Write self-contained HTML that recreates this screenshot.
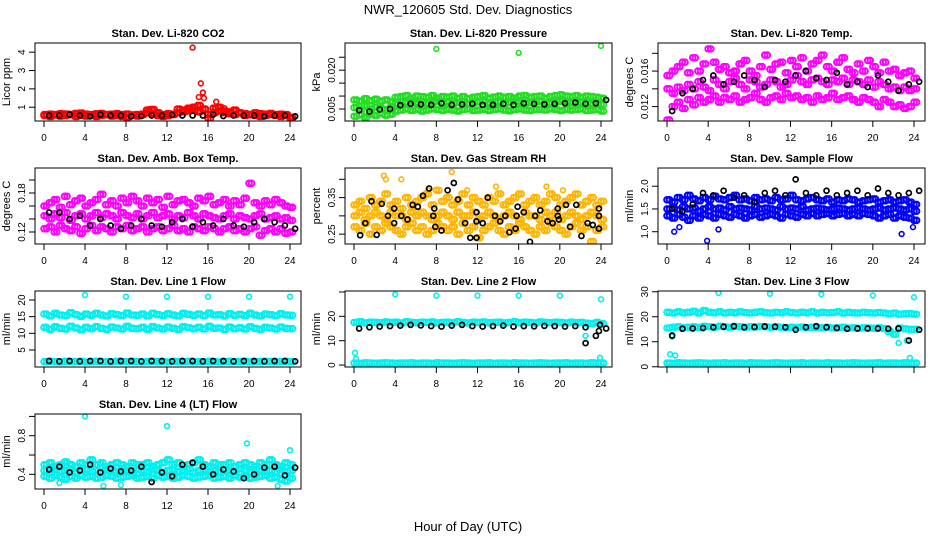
<!DOCTYPE html>
<html><head><meta charset="utf-8"><style>
body{margin:0;background:#fff;}
svg{display:block;font-family:"Liberation Sans",Arial,sans-serif;}
</style></head><body>
<svg id="c" width="936" height="540" viewBox="0 0 936 540">
<rect width="936" height="540" fill="#fff"/>
<text x="468" y="14" font-size="13" text-anchor="middle">NWR_120605  Std. Dev. Diagnostics</text>
<text x="468" y="531" font-size="13" text-anchor="middle">Hour of Day (UTC)</text>
</svg>
<script>
// ---- data (x = index*0.5 hours unless noted) ----
const hourTicks=[0,4,8,12,16,20,24];
const co2Red1=[0.6,0.62,0.6,0.65,0.63,0.6,0.66,0.68,0.62,0.6,0.64,0.66,0.6,0.62,0.65,0.6,0.63,0.58,0.6,0.62,0.85,0.88,0.7,0.6,0.65,0.62,0.9,0.85,0.95,1.0,1.1,0.9,0.6,0.95,1.0,0.8,0.75,0.85,0.7,0.65,0.6,0.7,0.65,0.62,0.66,0.6,0.62,0.6,0.45];
const co2Red2=[0.55,0.5,0.58,0.52,0.55,0.6,0.5,0.55,0.52,0.58,0.5,0.55,0.6,0.52,0.55,0.5,0.45,0.55,0.52,0.6,0.7,0.65,0.55,0.5,0.55,0.6,0.7,0.75,0.8,0.85,0.75,0.9,0.4,0.7,0.8,0.7,0.65,0.6,0.7,0.55,0.6,0.55,0.5,0.55,0.6,0.55,0.5,0.55,0.4];
const co2Black=[0.55,0.55,0.6,0.55,0.5,0.6,0.55,0.55,0.5,0.52,0.55,0.55,0.58,0.55,0.55,0.55,0.6,0.52,0.55,0.55,0.55,0.5,0.55,0.55,0.5];
const co2OutX=[14.5,15.3,15.5,15.6,15.1,16.8,17.6,10.3,10.6];
const co2OutY=[4.25,2.3,1.8,1.5,1.55,1.3,0.95,0.9,0.85];
const presG1=[0.0085,0.008,0.009,0.0082,0.0088,0.008,0.0085,0.0078,0.0095,0.0098,0.0102,0.0092,0.01,0.0098,0.0095,0.0102,0.0092,0.0098,0.0096,0.01,0.0092,0.0098,0.009,0.0095,0.0098,0.0102,0.0092,0.0096,0.01,0.0095,0.0098,0.0092,0.01,0.0102,0.0095,0.0098,0.01,0.0092,0.0098,0.0102,0.0105,0.01,0.0098,0.0102,0.0095,0.01,0.0098,0.0095,0.0092];
const presG2=[0.0055,0.0048,0.0062,0.005,0.0058,0.0052,0.0048,0.0056,0.007,0.0078,0.0075,0.008,0.0072,0.0078,0.007,0.0075,0.008,0.0072,0.0078,0.007,0.0075,0.0078,0.007,0.0074,0.0078,0.008,0.0072,0.0075,0.0078,0.007,0.0075,0.008,0.0078,0.0072,0.0075,0.0078,0.008,0.0075,0.0072,0.0078,0.008,0.0078,0.0075,0.0072,0.0078,0.0075,0.007,0.0072,0.0068];
const presG3=[0.0022,0.0028,0.0018,0.003,0.0025,0.0032,0.0026,0.003,0.0042,0.0046,0.005,0.0044,0.0048,0.0042,0.0046,0.005,0.0048,0.0044,0.0049,0.0046,0.0042,0.0048,0.005,0.0044,0.0046,0.0049,0.0044,0.0048,0.005,0.0046,0.0043,0.0048,0.005,0.0046,0.0044,0.0048,0.0049,0.0046,0.005,0.0048,0.0044,0.0049,0.0046,0.0048,0.005,0.0044,0.0046,0.0048,0.0042];
const presBlack=[0.0045,0.004,0.0048,0.005,0.0065,0.007,0.0068,0.0066,0.0072,0.0066,0.0068,0.007,0.0066,0.0066,0.007,0.0066,0.0072,0.007,0.0068,0.007,0.0072,0.0075,0.007,0.0072,0.0085];
const presOutX=[8,16,24];
const presOutY=[0.0282,0.0267,0.0294];
const tempM1=[0.0155,0.016,0.0165,0.017,0.0158,0.0175,0.016,0.0168,0.0185,0.017,0.0162,0.0165,0.0158,0.016,0.0168,0.0172,0.016,0.0155,0.0165,0.0178,0.0162,0.0168,0.017,0.0158,0.0172,0.0165,0.0175,0.016,0.0168,0.0172,0.0178,0.0165,0.016,0.017,0.0175,0.0162,0.0158,0.0168,0.016,0.0172,0.0165,0.0158,0.017,0.016,0.0162,0.0155,0.0158,0.016,0.0152];
const tempM2=[0.014,0.0135,0.0142,0.0138,0.0145,0.014,0.0148,0.0142,0.0138,0.015,0.0145,0.014,0.0148,0.0152,0.0145,0.014,0.015,0.0148,0.0142,0.0145,0.015,0.0148,0.0142,0.0145,0.015,0.0155,0.0148,0.0145,0.015,0.0152,0.0148,0.0145,0.015,0.0148,0.0152,0.0145,0.015,0.0148,0.0145,0.015,0.0142,0.0148,0.0145,0.014,0.0142,0.0138,0.0142,0.0138,0.014];
const tempM3=[0.0105,0.012,0.0125,0.0118,0.0128,0.0122,0.013,0.0125,0.0128,0.0132,0.0125,0.013,0.0128,0.0132,0.0125,0.0128,0.013,0.0135,0.0128,0.0125,0.013,0.0132,0.0128,0.0135,0.013,0.0132,0.0128,0.013,0.0125,0.0132,0.0128,0.013,0.0135,0.0128,0.013,0.0132,0.0128,0.0125,0.013,0.0128,0.0125,0.012,0.0128,0.0125,0.012,0.0122,0.0118,0.012,0.0125];
const tempBlack=[0.0115,0.0135,0.014,0.015,0.0155,0.0145,0.0148,0.0155,0.015,0.0142,0.015,0.0148,0.0155,0.016,0.0152,0.015,0.0158,0.0145,0.0148,0.0142,0.0155,0.0148,0.0138,0.0145,0.0148];
const ambM1=[0.16,0.165,0.17,0.158,0.175,0.162,0.168,0.172,0.16,0.165,0.17,0.178,0.162,0.168,0.16,0.172,0.165,0.175,0.168,0.16,0.172,0.165,0.17,0.158,0.175,0.162,0.168,0.17,0.165,0.16,0.172,0.168,0.175,0.162,0.165,0.17,0.16,0.168,0.162,0.172,0.195,0.165,0.16,0.168,0.162,0.17,0.165,0.16,0.158];
const ambM2=[0.145,0.14,0.148,0.142,0.15,0.138,0.145,0.148,0.14,0.145,0.15,0.142,0.148,0.145,0.14,0.15,0.145,0.142,0.148,0.14,0.145,0.15,0.142,0.145,0.148,0.14,0.145,0.142,0.15,0.145,0.14,0.148,0.145,0.142,0.14,0.145,0.148,0.14,0.145,0.142,0.14,0.145,0.148,0.14,0.142,0.145,0.14,0.142,0.138];
const ambM3=[0.125,0.128,0.12,0.13,0.125,0.122,0.128,0.118,0.125,0.13,0.122,0.128,0.125,0.12,0.128,0.125,0.13,0.122,0.125,0.128,0.12,0.125,0.128,0.122,0.125,0.13,0.122,0.125,0.12,0.128,0.125,0.122,0.128,0.125,0.12,0.125,0.128,0.122,0.125,0.12,0.125,0.128,0.115,0.122,0.125,0.12,0.125,0.118,0.12];
const ambBlack=[0.15,0.15,0.14,0.145,0.13,0.14,0.13,0.125,0.13,0.14,0.13,0.128,0.135,0.14,0.128,0.135,0.13,0.14,0.13,0.128,0.135,0.14,0.135,0.13,0.125];
const rhO1=[0.33,0.34,0.32,0.35,0.33,0.34,0.36,0.33,0.34,0.32,0.35,0.33,0.34,0.35,0.36,0.33,0.37,0.34,0.35,0.33,0.34,0.36,0.33,0.35,0.34,0.33,0.35,0.34,0.36,0.33,0.34,0.35,0.36,0.33,0.34,0.35,0.33,0.34,0.36,0.35,0.33,0.34,0.35,0.36,0.33,0.34,0.35,0.33,0.34];
const rhO2=[0.30,0.31,0.29,0.30,0.31,0.30,0.29,0.31,0.30,0.30,0.29,0.31,0.30,0.31,0.30,0.29,0.30,0.31,0.30,0.29,0.31,0.30,0.30,0.31,0.29,0.30,0.31,0.30,0.29,0.30,0.31,0.30,0.29,0.31,0.30,0.30,0.29,0.31,0.30,0.31,0.29,0.30,0.31,0.30,0.29,0.30,0.31,0.30,0.29];
const rhO3=[0.27,0.26,0.28,0.25,0.27,0.26,0.28,0.27,0.26,0.25,0.27,0.28,0.26,0.27,0.25,0.26,0.28,0.27,0.26,0.27,0.25,0.28,0.26,0.27,0.24,0.26,0.27,0.28,0.26,0.25,0.27,0.26,0.28,0.27,0.26,0.25,0.27,0.26,0.28,0.27,0.26,0.25,0.27,0.28,0.26,0.27,0.23,0.26,0.27];
const rhOutX=[2.9,3.1,4.6,9.5,18.7,11,20.3,7.2,13.8];
const rhOutY=[0.41,0.40,0.40,0.42,0.38,0.37,0.37,0.37,0.38];
const rhBlackX=[0.6,1.1,1.7,2.2,2.7,3.3,3.9,3.9,4.6,5.2,5.7,6.2,6.7,7.3,7.8,7.7,7.9,8.5,9.1,9.7,10.1,10.8,11.3,11.9,11.9,11.9,12.5,13,13.7,14.2,14.7,15.1,15.7,15.9,15.8,16.5,17.1,17.6,18.1,18.8,19.3,19.8,19.8,19.9,20.6,21,21.6,22.1,22.7,23.2,23.8,23.8,23.8];
const rhBlackY=[0.247,0.28,0.34,0.248,0.333,0.30,0.32,0.28,0.30,0.29,0.33,0.325,0.355,0.375,0.32,0.30,0.27,0.26,0.37,0.39,0.345,0.28,0.24,0.31,0.285,0.24,0.28,0.35,0.30,0.285,0.30,0.255,0.265,0.325,0.30,0.31,0.229,0.30,0.315,0.285,0.28,0.32,0.30,0.29,0.33,0.27,0.33,0.245,0.28,0.275,0.32,0.30,0.265];
const flowB1=[1.7,1.65,1.75,1.7,1.8,1.72,1.68,1.75,1.7,1.78,1.72,1.7,1.75,1.8,1.7,1.72,1.68,1.75,1.7,1.72,1.68,1.75,1.7,1.72,1.8,1.7,1.68,1.72,1.75,1.7,1.68,1.72,1.65,1.7,1.68,1.72,1.7,1.65,1.68,1.7,1.72,1.65,1.68,1.7,1.65,1.68,1.7,1.65,1.6];
const flowB2=[1.5,1.52,1.48,1.55,1.5,1.52,1.45,1.5,1.55,1.5,1.52,1.48,1.55,1.5,1.52,1.5,1.48,1.55,1.5,1.52,1.5,1.48,1.55,1.5,1.52,1.5,1.55,1.48,1.5,1.52,1.5,1.48,1.5,1.52,1.5,1.48,1.5,1.52,1.5,1.48,1.5,1.52,1.48,1.5,1.52,1.5,1.48,1.5,1.45];
const flowB3=[1.35,1.3,1.38,1.32,1.25,1.35,1.3,1.38,1.35,1.3,1.38,1.35,1.32,1.38,1.35,1.3,1.35,1.38,1.32,1.35,1.38,1.35,1.3,1.38,1.35,1.32,1.38,1.35,1.4,1.35,1.38,1.4,1.35,1.38,1.4,1.35,1.38,1.35,1.4,1.38,1.35,1.3,1.35,1.38,1.3,1.35,1.32,1.3,1.25];
const flowOutX=[3.9,0.7,22.8,5,23.9,1.2];
const flowOutY=[0.8,1.0,0.95,1.05,1.1,1.1];
const flowBlack=[1.5,1.45,1.6,1.85,1.8,1.9,1.75,1.8,1.65,1.85,1.9,1.8,2.15,1.85,1.8,1.9,1.8,1.85,1.9,1.8,1.95,1.85,1.8,1.85,1.9];
const line1A=[15.8,15.2,16,15.5,15.3,16.2,15.6,15.1,15.8,15.4,16,15.5,15.2,15.9,15.6,15.3,16.1,15.5,15.4,15.8,15.2,16,15.6,15.3,15.9,15.5,15.2,16,15.7,15.4,15.8,15.3,16.1,15.5,15.6,15.2,15.9,15.4,15.7,15.3,16,15.5,15.2,15.8,15.6,15.3,15.9,15.5,15.4];
const line1B=[11.8,11.2,12,11.5,11.3,12.1,11.6,11.1,11.8,11.4,12,11.5,11.2,11.9,11.6,11.3,12.1,11.5,11.4,11.8,11.2,12,11.6,11.3,11.9,11.5,11.2,12,11.7,11.4,11.8,11.3,12.1,11.5,11.6,11.2,11.9,11.4,11.7,11.3,12,11.5,11.2,11.8,11.6,11.3,11.9,11.5,11.4];
const line1C=[1.5,1.6,1.5,1.4,1.6,1.5,1.5,1.6,1.4,1.5,1.6,1.5,1.5,1.4,1.6,1.5,1.5,1.6,1.5,1.4,1.5,1.6,1.5,1.5,1.4,1.6,1.5,1.5,1.6,1.4,1.5,1.5,1.6,1.5,1.4,1.5,1.6,1.5,1.5,1.6,1.4,1.5,1.5,1.6,1.5,1.4,1.5,1.6,1.5];
const line1Black=[1.7,1.6,1.7,1.6,1.7,1.7,1.6,1.7,1.7,1.6,1.7,1.7,1.6,1.7,1.7,1.6,1.7,1.7,1.6,1.7,1.7,1.6,1.7,1.7,1.6];
const line1OutX=[4,8,12,16,20,24];
const line1OutY=[21.5,21,21,21,21,21];
const line2A=[17.5,17.8,17.3,17.6,17.5,17.4,17.7,17.5,17.6,17.3,17.8,17.5,17.4,17.6,17.5,17.7,17.3,17.5,17.6,17.4,17.8,17.5,17.3,17.6,17.5,17.7,17.4,17.5,17.6,17.3,17.5,17.8,17.4,17.6,17.5,17.3,17.7,17.5,17.4,17.6,17.5,17.3,17.6,17.4,17.5,17.2,17,17.5,17];
const line2B=[0.8,0.7,0.9,0.8,0.7,0.8,0.9,0.8,0.7,0.8,0.8,0.9,0.7,0.8,0.8,0.7,0.9,0.8,0.8,0.7,0.8,0.9,0.8,0.7,0.8,0.8,0.9,0.7,0.8,0.8,0.7,0.9,0.8,0.8,0.7,0.8,0.9,0.8,0.7,0.8,0.8,0.9,0.7,0.8,0.8,0.7,0.9,0.8,0.8];
const line2OutX=[4,8,12,16,20,24,0.1,0.2,22.5,23.9];
const line2OutY=[29,28.5,28.5,28.5,28.5,27,5,2.5,12,3];
const line2Black=[15,15.5,15.8,16,16.2,16.5,16.3,16,15.8,16.2,16.5,16,15.8,16,16.2,15.8,16,15.9,16.1,16,15.8,16,15.5,12,15];
const line2BlackExX=[22.5,23.8,23.9];
const line2BlackExY=[9,14,16.5];
const line3A=[21.8,21.5,22,21.6,21.8,22.2,21.5,22.5,21.8,21.6,22,21.5,21.8,21.6,22,21.7,21.5,21.8,22,21.6,21.5,21.8,21.6,22,21.7,21.5,21.8,21.6,22,21.5,21.8,21.6,21.7,22,21.5,21.8,21.6,21.5,21.8,21.6,21.5,21.7,21.5,21.2,21.5,21,21.2,21.3,21];
const line3C=[15.5,15.8,16,15.6,15.8,16,15.7,16.2,16,15.8,16.2,16,15.8,16.1,16,15.8,16,15.9,16.1,16,15.8,16,15.8,15.6,15.8,15.7,15.9,15.6,15.8,15.7,15.6,15.8,15.5,15.6,15.8,15.5,15.6,15.4,15.6,15.5,15.4,15.6,15.3,14,13,15.5,15.2,15,15];
const line3B=[1.5,1.4,1.6,1.5,1.4,1.5,1.6,1.5,1.4,1.5,1.5,1.6,1.4,1.5,1.5,1.4,1.6,1.5,1.5,1.4,1.5,1.6,1.5,1.4,1.5,1.5,1.6,1.4,1.5,1.5,1.4,1.6,1.5,1.5,1.4,1.5,1.6,1.5,1.4,1.5,1.5,1.6,1.4,1.5,1.5,1.4,1.6,1.5,1.5];
const line3OutX=[5,10,15,20,24,0.5,0.8,0.3,22.5,23.3,23.6];
const line3OutY=[29.5,29.2,29,28.5,27.8,12,4.5,5,9.5,10.5,3.5];
const line3Black=[12.5,15.2,15.3,15.5,15.8,16,16.2,15.8,15.9,16.1,16,15.8,14.8,15.8,16.2,15.8,15.5,15.2,15.3,15.3,15.3,15.2,15.3,10.5,14.8];
const line4C1=[0.5,0.52,0.48,0.5,0.53,0.5,0.48,0.52,0.5,0.55,0.5,0.52,0.48,0.5,0.52,0.5,0.48,0.52,0.5,0.5,0.52,0.48,0.5,0.52,0.55,0.5,0.52,0.48,0.5,0.52,0.55,0.5,0.48,0.52,0.5,0.5,0.52,0.48,0.5,0.52,0.5,0.48,0.52,0.5,0.55,0.5,0.48,0.52,0.5];
const line4C2=[0.44,0.42,0.45,0.43,0.44,0.46,0.42,0.44,0.45,0.43,0.44,0.42,0.45,0.44,0.43,0.46,0.44,0.42,0.45,0.44,0.43,0.45,0.44,0.42,0.44,0.45,0.43,0.44,0.46,0.42,0.44,0.45,0.43,0.44,0.42,0.45,0.44,0.43,0.46,0.44,0.42,0.45,0.44,0.43,0.44,0.42,0.45,0.43,0.44];
const line4C3=[0.38,0.36,0.39,0.37,0.35,0.38,0.36,0.39,0.37,0.38,0.36,0.37,0.39,0.38,0.36,0.37,0.38,0.39,0.36,0.37,0.38,0.36,0.39,0.37,0.38,0.36,0.37,0.39,0.38,0.36,0.37,0.38,0.39,0.36,0.37,0.38,0.36,0.39,0.37,0.38,0.36,0.37,0.38,0.39,0.36,0.37,0.35,0.33,0.36];
const line4OutX=[4,12,19.8,24,1.5,7.5,22.8,5.8];
const line4OutY=[1.0,0.9,0.72,0.65,0.31,0.29,0.28,0.28];
const line4Black=[0.45,0.48,0.42,0.44,0.5,0.42,0.46,0.43,0.44,0.48,0.32,0.42,0.38,0.5,0.52,0.48,0.4,0.45,0.43,0.36,0.4,0.47,0.48,0.39,0.47];

const W=[[35,301],[345,612],[658,925]];
const H=[[43,121],[168,244],[291,367],[414,489]];
const whole=v=>v.map((_,i)=>i+0.5);
const CY='#00f0f0';
const panels=[
 {c:0,r:0,title:'Stan. Dev. Li-820 CO2',ylab:'Licor ppm',ymin:0.25,ymax:4.5,ticks:[1,2,3,4],labs:['1','2','3','4'],xl:true,
  s:[[co2Red1,'#ff0000'],[co2Red2,'#ff0000']],o:[[co2OutX,co2OutY,'#ff0000']],b:[[whole(co2Black),co2Black]]},
 {c:1,r:0,title:'Stan. Dev. Li-820 Pressure',ylab:'kPa',ymin:0.00036,ymax:0.0305,ticks:[0.005,0.010,0.015,0.020,0.025],labs:['0.005','','','0.020',''],xl:true,
  s:[[presG1,'#22dd22'],[presG2,'#22dd22'],[presG3,'#22dd22']],o:[[presOutX,presOutY,'#22dd22']],b:[[whole(presBlack),presBlack]]},
 {c:2,r:0,title:'Stan. Dev. Li-820 Temp.',ylab:'degrees C',ymin:0.01038,ymax:0.01916,ticks:[0.012,0.014,0.016,0.018],labs:['0.012','','0.016',''],xl:true,
  s:[[tempM1,'#ff00ff'],[tempM2,'#ff00ff'],[tempM3,'#ff00ff']],o:[],b:[[whole(tempBlack),tempBlack]]},
 {c:0,r:1,title:'Stan. Dev. Amb. Box Temp.',ylab:'degrees C',ymin:0.1015,ymax:0.2185,ticks:[0.12,0.14,0.16,0.18,0.20],labs:['0.12','','','0.18',''],xl:true,
  s:[[ambM1,'#ff00ff'],[ambM2,'#ff00ff'],[ambM3,'#ff00ff']],o:[],b:[[whole(ambBlack),ambBlack]]},
 {c:1,r:1,title:'Stan. Dev. Gas Stream RH',ylab:'percent',ymin:0.223,ymax:0.431,ticks:[0.25,0.30,0.35,0.40],labs:['0.25','','0.35',''],xl:true,
  s:[[rhO1,'#ffb400'],[rhO2,'#ffb400'],[rhO3,'#ffb400']],o:[[rhOutX,rhOutY,'#ffb400']],b:[[rhBlackX,rhBlackY]]},
 {c:2,r:1,title:'Stan. Dev. Sample Flow',ylab:'ml/min',ymin:0.73,ymax:2.4,ticks:[1.0,1.5,2.0],labs:['1.0','1.5','2.0'],xl:true,
  s:[[flowB1,'#0000ff'],[flowB2,'#0000ff'],[flowB3,'#0000ff']],o:[[flowOutX,flowOutY,'#0000ff']],b:[[whole(flowBlack),flowBlack]]},
 {c:0,r:2,title:'Stan. Dev. Line 1 Flow',ylab:'ml/min',ymin:-0.1,ymax:22.7,ticks:[5,10,15,20],labs:['5','10','15','20'],xl:true,
  s:[[line1A,CY],[line1B,CY],[line1C,CY]],o:[[line1OutX,line1OutY,CY]],b:[[whole(line1Black),line1Black]]},
 {c:1,r:2,title:'Stan. Dev. Line 2 Flow',ylab:'ml/min',ymin:-0.8,ymax:30.4,ticks:[0,10,20,30],labs:['0','10','20',''],xl:true,
  s:[[line2A,CY],[line2B,CY]],o:[[line2OutX,line2OutY,CY]],b:[[whole(line2Black),line2Black],[line2BlackExX,line2BlackExY]]},
 {c:2,r:2,title:'Stan. Dev. Line 3 Flow',ylab:'ml/min',ymin:-0.1,ymax:30.3,ticks:[0,10,20,30],labs:['0','10','20','30'],xl:false,
  s:[[line3A,CY],[line3C,CY],[line3B,CY]],o:[[line3OutX,line3OutY,CY]],b:[[whole(line3Black),line3Black]]},
 {c:0,r:3,title:'Stan. Dev. Line 4 (LT) Flow',ylab:'ml/min',ymin:0.248,ymax:1.025,ticks:[0.4,0.6,0.8,1.0],labs:['0.4','','0.8',''],xl:true,
  s:[[line4C1,CY],[line4C2,CY],[line4C3,CY]],o:[[line4OutX,line4OutY,CY]],b:[[whole(line4Black),line4Black]]}
];
const svg=document.getElementById('c');
const NS='http://www.w3.org/2000/svg';
function mk(tag,at,parent){const e=document.createElementNS(NS,tag);for(const k in at)e.setAttribute(k,at[k]);(parent||svg).appendChild(e);return e;}
panels.forEach((p,pi)=>{
  const [L,R]=W[p.c],[T,B]=H[p.r];
  const g=mk('g',{});
  
  
  const xs=h=>L+9+h*(R-L-20)/24;
  const ys=v=>B-(v-p.ymin)/(p.ymax-p.ymin)*(B-T);
  const clip='cl'+pi;
  const cp=mk('clipPath',{id:clip},g);mk('rect',{x:L,y:T,width:R-L,height:B-T},cp);
  const pts=mk('g',{'clip-path':'url(#'+clip+')'},g);
  p.s.forEach(([vals,col])=>{vals.forEach((v,i)=>{
    [0,0.25].forEach(off=>{
      const c=mk('circle',{cx:xs(i*0.5+off),cy:ys(v),r:2.8,fill:'none',stroke:col,'stroke-width':2},pts);
      
      
    });
  });});
  p.o.forEach(([ox,oy,col])=>{ox.forEach((x,i)=>{
    const c=mk('circle',{cx:xs(x),cy:ys(oy[i]),r:2.4,fill:'none',stroke:col,'stroke-width':1.6},pts);
    
    
  });});
  p.b.forEach(([bx,by])=>{bx.forEach((x,i)=>{
    const c=mk('circle',{cx:xs(x),cy:ys(by[i]),r:2.5,fill:'none',stroke:'#000','stroke-width':1.7},pts);
    
    
  });});
  const box=mk('rect',{x:L,y:T,width:R-L,height:B-T,fill:'none',stroke:'#000','stroke-width':1},g);
  
  
  const t=mk('text',{x:(L+R)/2,y:T-6,'font-size':11,'font-weight':'bold','text-anchor':'middle'},g);
  t.textContent=p.title;
  
  
  const yl=mk('text',{x:0,y:0,'font-size':11,'text-anchor':'middle',transform:`translate(${L-25},${(T+B)/2}) rotate(-90)`},g);
  yl.textContent=p.ylab;
  
  
  hourTicks.forEach(h=>{
    mk('line',{x1:xs(h),x2:xs(h),y1:B,y2:B+6,stroke:'#000'},g);
    if(p.xl){const tx=mk('text',{x:xs(h),y:B+20,'font-size':10,'text-anchor':'middle'},g);tx.textContent=String(h);
      
      }
  });
  p.ticks.forEach((v,i)=>{
    if(v<p.ymin||v>p.ymax)return;
    mk('line',{x1:L-6,x2:L,y1:ys(v),y2:ys(v),stroke:'#000'},g);
    if(p.labs[i]){const ty=mk('text',{x:0,y:0,'font-size':10,'text-anchor':'middle',transform:`translate(${L-10},${ys(v)}) rotate(-90)`},g);
      ty.textContent=p.labs[i];
      
      }
  });
});
</script>
</body></html>
